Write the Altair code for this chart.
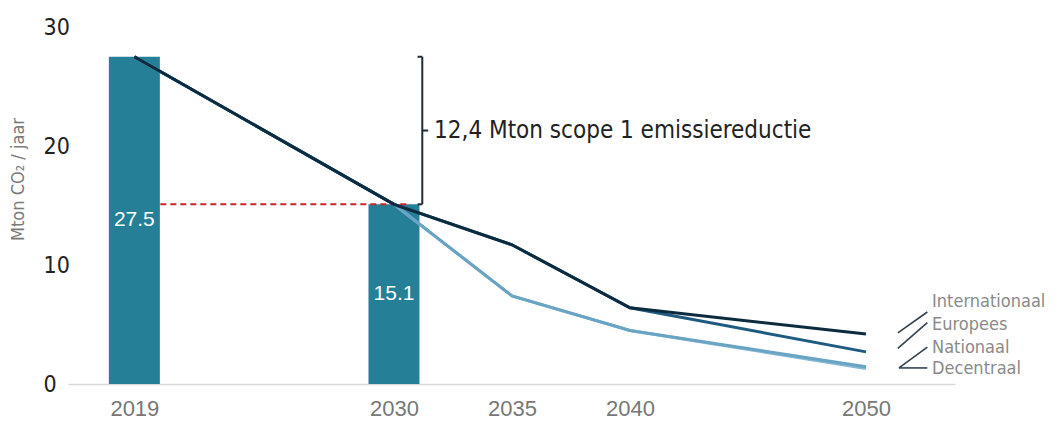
import altair as alt
import pandas as pd

# ---------------- data ----------------
bar_years = [2019, 2030]
bar_values = [27.5, 15.1]
bar_labels = ["27.5", "15.1"]

line_years = [2019, 2030, 2035, 2040, 2050]
scenarios = ["Decentraal", "Nationaal", "Europees", "Internationaal"]
decentraal = [27.5, 15.1, 7.4, 4.5, 1.3]
nationaal = [27.5, 15.1, 7.4, 4.5, 1.45]
europees = [27.5, 15.1, 11.7, 6.4, 2.7]
internationaal = [27.5, 15.1, 11.7, 6.4, 4.2]
line_colors = ["#86b7d2", "#6aa4c4", "#1f5b80", "#0d2b3e"]

x_ticks = [2019, 2030, 2035, 2040, 2050]
y_ticks = [0, 10, 20, 30]

# reference (dashed) line at the 2030 level
ref_x = [2020.1, 2030.7]
ref_value = 15.1

# bracket annotation
bracket_x = 2031.2
bracket_tick_left = 2031.0
bracket_tick_right = 2031.45
bracket_top = 27.5
bracket_bottom = 15.1
annotation_text = "12,4 Mton scope 1 emissiereductie"
annotation_x = 2031.7

# scenario labels at the right with leader lines
legend_names = ["Internationaal", "Europees", "Nationaal", "Decentraal"]
leader_x1 = [2051.35, 2051.35, 2051.4, 2051.4]
leader_y1 = [4.3, 3.0, 1.35, 1.35]
leader_x2 = [2052.6, 2052.6, 2052.6, 2052.6]
leader_y2 = [6.05, 5.15, 3.1, 1.35]
legend_label_x = [2052.8, 2052.8, 2052.8, 2052.8]
legend_label_y = [6.9, 4.95, 3.05, 1.25]

# ---------------- tables ----------------
bars_df = pd.DataFrame({"year": bar_years, "value": bar_values, "label": bar_labels})
series = {"Decentraal": decentraal, "Nationaal": nationaal,
          "Europees": europees, "Internationaal": internationaal}
ref_df = pd.DataFrame({"x": [ref_x[0]], "x2": [ref_x[1]], "y": [ref_value]})
bracket_v = pd.DataFrame({"x": [bracket_x], "y": [bracket_top], "y2": [bracket_bottom]})
bracket_h = pd.DataFrame({
    "x": [bracket_tick_left, bracket_tick_left, bracket_x],
    "x2": [bracket_x, bracket_x, bracket_tick_right],
    "y": [bracket_top, bracket_bottom, (bracket_top + bracket_bottom) / 2],
})
ann_df = pd.DataFrame({"x": [annotation_x], "y": [(bracket_top + bracket_bottom) / 2],
                       "t": [annotation_text]})
leader_df = pd.DataFrame({"x": leader_x1, "y": leader_y1, "x2": leader_x2, "y2": leader_y2})
legend_df = pd.DataFrame({"x": legend_label_x, "y": legend_label_y, "t": legend_names})

# ---------------- scales ----------------
xscale = alt.Scale(domain=[2016.4, 2053.56], nice=False, zero=False)
yscale = alt.Scale(domain=[0, 30], nice=False)

X_AXIS = alt.Axis(values=x_ticks, format="d", title=None, ticks=False, grid=False,
                  domain=True, domainColor="#d9d9d9", domainWidth=1.5,
                  labelFont="Liberation Sans Narrow, Arial Narrow, Liberation Sans",
                  labelFontSize=22, labelColor="#777777", labelPadding=14,
                  labelFlush=False)
Y_AXIS = alt.Axis(values=y_ticks, title="Mton CO₂ / jaar", ticks=False, grid=False,
                  domain=False, labelAlign="left", labelPadding=25,
                  labelBaseline="middle",
                  labelFont="DejaVu Sans Condensed, DejaVu Sans", labelFontSize=23,
                  labelColor="#222222",
                  titleFont="DejaVu Sans Condensed, DejaVu Sans", titleFontSize=18,
                  titleFontWeight="normal", titleColor="#7a7a7a",
                  titleAngle=270, titleX=-50, titleY=152,
                  titleAlign="center", titleBaseline="middle")

bars = alt.Chart(bars_df).mark_bar(size=51, color="#247f97").encode(
    x=alt.X("year:Q", scale=xscale, axis=X_AXIS),
    y=alt.Y("value:Q", scale=yscale, axis=Y_AXIS),
)

bar_text = alt.Chart(bars_df).transform_calculate(mid="datum.value / 2").mark_text(
    color="white", font="Liberation Sans", fontSize=21, baseline="middle"
).encode(
    x=alt.X("year:Q", scale=xscale),
    y=alt.Y("mid:Q", scale=yscale),
    text="label:N",
)

ref_line = alt.Chart(ref_df).mark_rule(color="#c8262c", strokeWidth=2,
                                       strokeDash=[6, 4]).encode(
    x=alt.X("x:Q", scale=xscale), x2="x2:Q", y=alt.Y("y:Q", scale=yscale))

line_layers = []
for name, col in zip(scenarios, line_colors):
    df = pd.DataFrame({"year": line_years, "value": series[name]})
    line_layers.append(
        alt.Chart(df).mark_line(color=col, strokeWidth=3).encode(
            x=alt.X("year:Q", scale=xscale),
            y=alt.Y("value:Q", scale=yscale),
        )
    )

br_v = alt.Chart(bracket_v).mark_rule(color="#1d2b3a", strokeWidth=2).encode(
    x=alt.X("x:Q", scale=xscale), y=alt.Y("y:Q", scale=yscale), y2="y2:Q")
br_h = alt.Chart(bracket_h).mark_rule(color="#1d2b3a", strokeWidth=2).encode(
    x=alt.X("x:Q", scale=xscale), x2="x2:Q", y=alt.Y("y:Q", scale=yscale))

ann = alt.Chart(ann_df).mark_text(
    align="left", baseline="middle", font="DejaVu Sans Condensed, DejaVu Sans",
    fontSize=24, color="#222222"
).encode(x=alt.X("x:Q", scale=xscale), y=alt.Y("y:Q", scale=yscale), text="t:N")

leaders = alt.Chart(leader_df).mark_rule(color="#34424e", strokeWidth=1.6).encode(
    x=alt.X("x:Q", scale=xscale), x2="x2:Q",
    y=alt.Y("y:Q", scale=yscale), y2="y2:Q")

legend_text = alt.Chart(legend_df).mark_text(
    align="left", baseline="middle", font="DejaVu Sans Condensed, DejaVu Sans",
    fontSize=18, color="#8a8a8a"
).encode(x=alt.X("x:Q", scale=xscale), y=alt.Y("y:Q", scale=yscale), text="t:N")

chart = alt.layer(
    bars, ref_line, *line_layers, bar_text, br_v, br_h, ann, leaders, legend_text
).properties(
    width=887, height=357,
    padding={"left": 60, "top": 19, "right": 97, "bottom": 35},
    autosize=alt.AutoSizeParams(type="none"),
    background="white",
).configure_view(strokeWidth=0, stroke="transparent")

chart.save("out.html", embed_options={"renderer": "svg", "actions": False})
